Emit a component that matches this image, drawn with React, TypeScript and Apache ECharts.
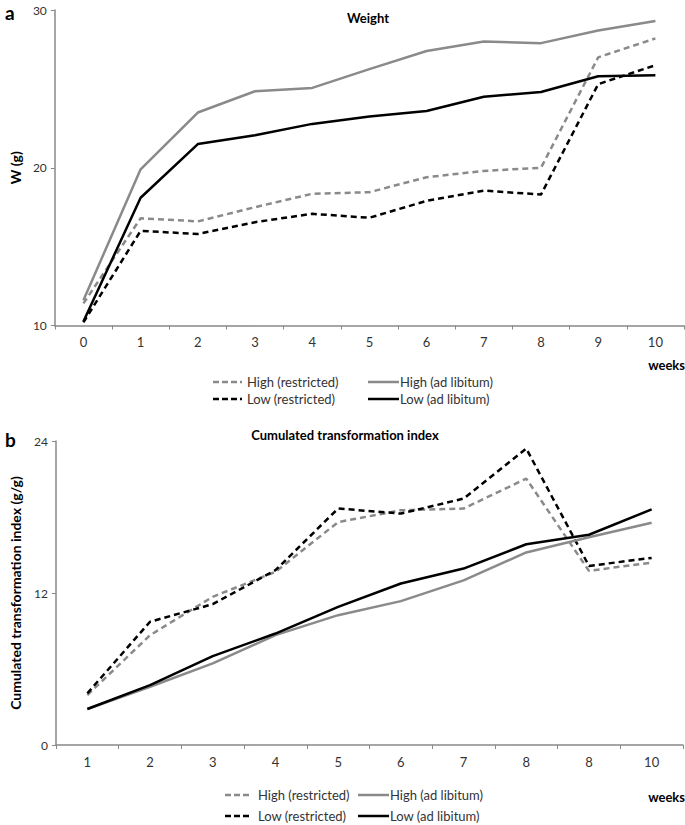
import React, { useEffect, useRef } from "react";
import * as echarts from "echarts";

const weeksA = ["0", "1", "2", "3", "4", "5", "6", "7", "8", "9", "10"];
const weightHighRestricted = [11.4, 16.8, 16.6, 17.5, 18.35, 18.45, 19.4, 19.8, 20.0, 27.0, 28.2];
const weightHighAdLib = [11.6, 19.9, 23.5, 24.85, 25.06, 26.25, 27.4, 28.0, 27.9, 28.7, 29.3];
const weightLowRestricted = [10.2, 16.0, 15.8, 16.55, 17.08, 16.83, 17.9, 18.55, 18.3, 25.3, 26.5];
const weightLowAdLib = [10.25, 18.1, 21.5, 22.06, 22.78, 23.25, 23.6, 24.5, 24.8, 25.8, 25.86];

const weeksB = ["1", "2", "3", "4", "5", "6", "7", "8", "8", "10"];
const ctiHighRestricted = [3.94, 8.67, 11.7, 13.67, 17.6, 18.53, 18.67, 21.03, 13.75, 14.4];
const ctiHighAdLib = [2.84, 4.6, 6.44, 8.67, 10.25, 11.36, 13.0, 15.2, 16.4, 17.55];
const ctiLowRestricted = [4.08, 9.73, 11.12, 13.8, 18.67, 18.27, 19.45, 23.4, 14.14, 14.77];
const ctiLowAdLib = [2.84, 4.73, 7.02, 8.8, 10.9, 12.75, 13.93, 15.85, 16.6, 18.6];

const seriesNames = ["High (restricted)", "High (ad libitum)", "Low (restricted)", "Low (ad libitum)"];

const FONT = "Lato";
const GRAY = "#8a8a8a";
const AXIS = "#888888";
const TEXT = "#333333";

const styleOf = (i: number) => {
  const color = i === 0 || i === 1 ? GRAY : "#000";
  const dashed = i === 0 || i === 2;
  return { color, dashed };
};

export default function App() {
  const ref = useRef<HTMLDivElement>(null);
  useEffect(() => {
    if (!ref.current) return;
    const chart = echarts.init(ref.current, undefined, { renderer: "svg" });

    const mkSeries = (data: number[][], axisIndex: number) =>
      data.map((d, i) => {
        const s = styleOf(i);
        return {
          name: seriesNames[i],
          type: "line",
          xAxisIndex: axisIndex,
          yAxisIndex: axisIndex,
          data: d,
          symbol: "none",
          showSymbol: false,
          itemStyle: { color: s.color },
          lineStyle: { color: s.color, width: 2.5, type: s.dashed ? [6, 4] : "solid" },
          z: i === 1 || i === 3 ? 3 : 2,
        };
      });

    const xAxisBase = (cats: string[], gi: number) => ({
      type: "category",
      gridIndex: gi,
      data: cats,
      boundaryGap: true,
      axisLine: { lineStyle: { color: AXIS, width: 1.5 } },
      axisTick: { show: true, length: 4, lineStyle: { color: AXIS } },
      axisLabel: { color: TEXT, fontFamily: FONT, fontSize: 13, margin: 10 },
    });

    const legendBlock = (cols: number[][], rows: number[]) => {
      const els: any[] = [];
      const order = [[0, 1], [2, 3]];
      rows.forEach((y, r) => {
        cols.forEach((c, ci) => {
          const idx = order[r][ci];
          const s = styleOf(idx);
          els.push({
            type: "line",
            shape: { x1: c[0], y1: y, x2: c[1], y2: y },
            style: { stroke: s.color, lineWidth: 2.5, lineDash: s.dashed ? [6, 3] : null },
          });
          els.push({
            type: "text",
            x: c[2],
            y,
            style: {
              text: seriesNames[idx],
              fontFamily: FONT,
              fontSize: 13,
              fill: TEXT,
              verticalAlign: "middle",
            },
          });
        });
      });
      return els;
    };

    chart.setOption({
      animation: false,
      grid: [
        { left: 50, right: 1, top: 10, height: 315.5 },
        { left: 50, right: 2, top: 441, height: 304 },
      ],
      xAxis: [xAxisBase(weeksA, 0), xAxisBase(weeksB, 1)],
      yAxis: [
        {
          type: "value",
          gridIndex: 0,
          min: 10,
          max: 30,
          interval: 10,
          splitLine: { show: false },
          axisLine: { show: true, lineStyle: { color: AXIS, width: 1.5 } },
          axisTick: { show: true, length: 4, lineStyle: { color: AXIS } },
          axisLabel: { color: TEXT, fontFamily: FONT, fontSize: 12, margin: 8 },
          name: "W (g)",
          nameLocation: "middle",
          nameGap: 32,
          nameRotate: 90,
          nameTextStyle: { fontFamily: FONT, fontSize: 14, fontWeight: "bold", color: "#000" },
        },
        {
          type: "value",
          gridIndex: 1,
          min: 0,
          max: 24,
          interval: 12,
          splitLine: { show: false },
          axisLine: { show: true, lineStyle: { color: AXIS, width: 1.5 } },
          axisTick: { show: true, length: 4, lineStyle: { color: AXIS } },
          axisLabel: { color: TEXT, fontFamily: FONT, fontSize: 12, margin: 8 },
          name: "Cumulated transformation index (g/g)",
          nameLocation: "middle",
          nameGap: 34,
          nameRotate: 90,
          nameTextStyle: { fontFamily: FONT, fontSize: 14, fontWeight: "bold", color: "#000" },
        },
      ],
      series: [
        ...mkSeries([weightHighRestricted, weightHighAdLib, weightLowRestricted, weightLowAdLib], 0),
        ...mkSeries([ctiHighRestricted, ctiHighAdLib, ctiLowRestricted, ctiLowAdLib], 1),
      ],
      graphic: [
        { type: "text", x: 5, y: 3, style: { text: "a", fontFamily: FONT, fontSize: 19, fontWeight: "bold", fill: "#000" } },
        { type: "text", x: 5, y: 430, style: { text: "b", fontFamily: FONT, fontSize: 19, fontWeight: "bold", fill: "#000" } },
        { type: "text", x: 368, y: 11, style: { text: "Weight", fontFamily: FONT, fontSize: 13, fontWeight: "bold", fill: "#000", align: "center" } },
        { type: "text", x: 345, y: 428, style: { text: "Cumulated transformation index", fontFamily: FONT, fontSize: 13, fontWeight: "bold", fill: "#000", align: "center" } },
        { type: "text", x: 685, y: 365, style: { text: "weeks", fontFamily: FONT, fontSize: 13, fontWeight: "bold", fill: "#000", align: "right", verticalAlign: "middle" } },
        { type: "text", x: 685, y: 797, style: { text: "weeks", fontFamily: FONT, fontSize: 13, fontWeight: "bold", fill: "#000", align: "right", verticalAlign: "middle" } },
        ...legendBlock([[213, 242, 247], [368, 399, 400]], [382, 399]),
        ...legendBlock([[225, 252, 258], [358, 389, 390]], [795, 816]),
      ],
    });
    return () => chart.dispose();
  }, []);
  return (
    <div
      ref={ref}
      style={{ position: "fixed", left: 0, top: 0, width: 685, height: 825, background: "#fff" }}
    />
  );
}
